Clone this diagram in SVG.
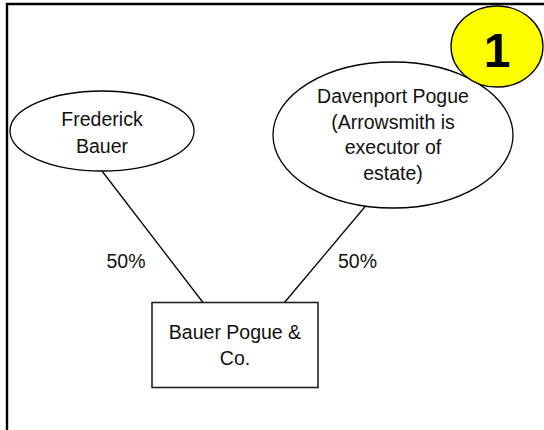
<svg xmlns="http://www.w3.org/2000/svg" width="544" height="430" viewBox="0 0 544 430">
<style>
  .lbl { font-family: "Liberation Sans", Arial, sans-serif; font-size: 19.5px; fill: #111; text-anchor: middle; }
  .shape { fill: #fff; stroke: #000; stroke-width: 1.3; }
  .conn { stroke: #000; stroke-width: 1.3; fill: none; }
</style>
<rect width="544" height="430" fill="#fff"/>
<path d="M7,440 V4 H560" fill="none" stroke="#000" stroke-width="2.4"/>
<g id="connectors">
  <line class="conn" x1="102" y1="171" x2="203" y2="302.5"/>
  <line class="conn" x1="366" y1="205.5" x2="284.5" y2="302.5"/>
  <text class="lbl" x="126" y="268">50%</text>
  <text class="lbl" x="357.5" y="268">50%</text>
</g>
<g id="frederick">
  <ellipse class="shape" cx="102" cy="131" rx="92" ry="40"/>
  <text class="lbl" x="102" y="126">Frederick</text>
  <text class="lbl" x="102" y="153">Bauer</text>
</g>
<g id="davenport">
  <ellipse class="shape" cx="393" cy="135" rx="120" ry="73"/>
  <text class="lbl" x="393" y="103">Davenport Pogue</text>
  <text class="lbl" x="393" y="128.5">(Arrowsmith is</text>
  <text class="lbl" x="393" y="154">executor of</text>
  <text class="lbl" x="393" y="179.5">estate)</text>
</g>
<g id="company">
  <rect x="152" y="302.5" width="166" height="85" fill="#fff" stroke="#222" stroke-width="1.6"/>
  <text class="lbl" x="235" y="339">Bauer Pogue &amp;</text>
  <text class="lbl" x="235" y="365">Co.</text>
</g>
<g id="badge">
  <ellipse cx="497" cy="46.5" rx="46" ry="40.5" fill="#ffff00" stroke="#000" stroke-width="1.3"/>
  <text x="497" y="67" font-family="'Liberation Sans', Arial, sans-serif" font-size="48" font-weight="bold" text-anchor="middle" fill="#000">1</text>
</g>
</svg>
